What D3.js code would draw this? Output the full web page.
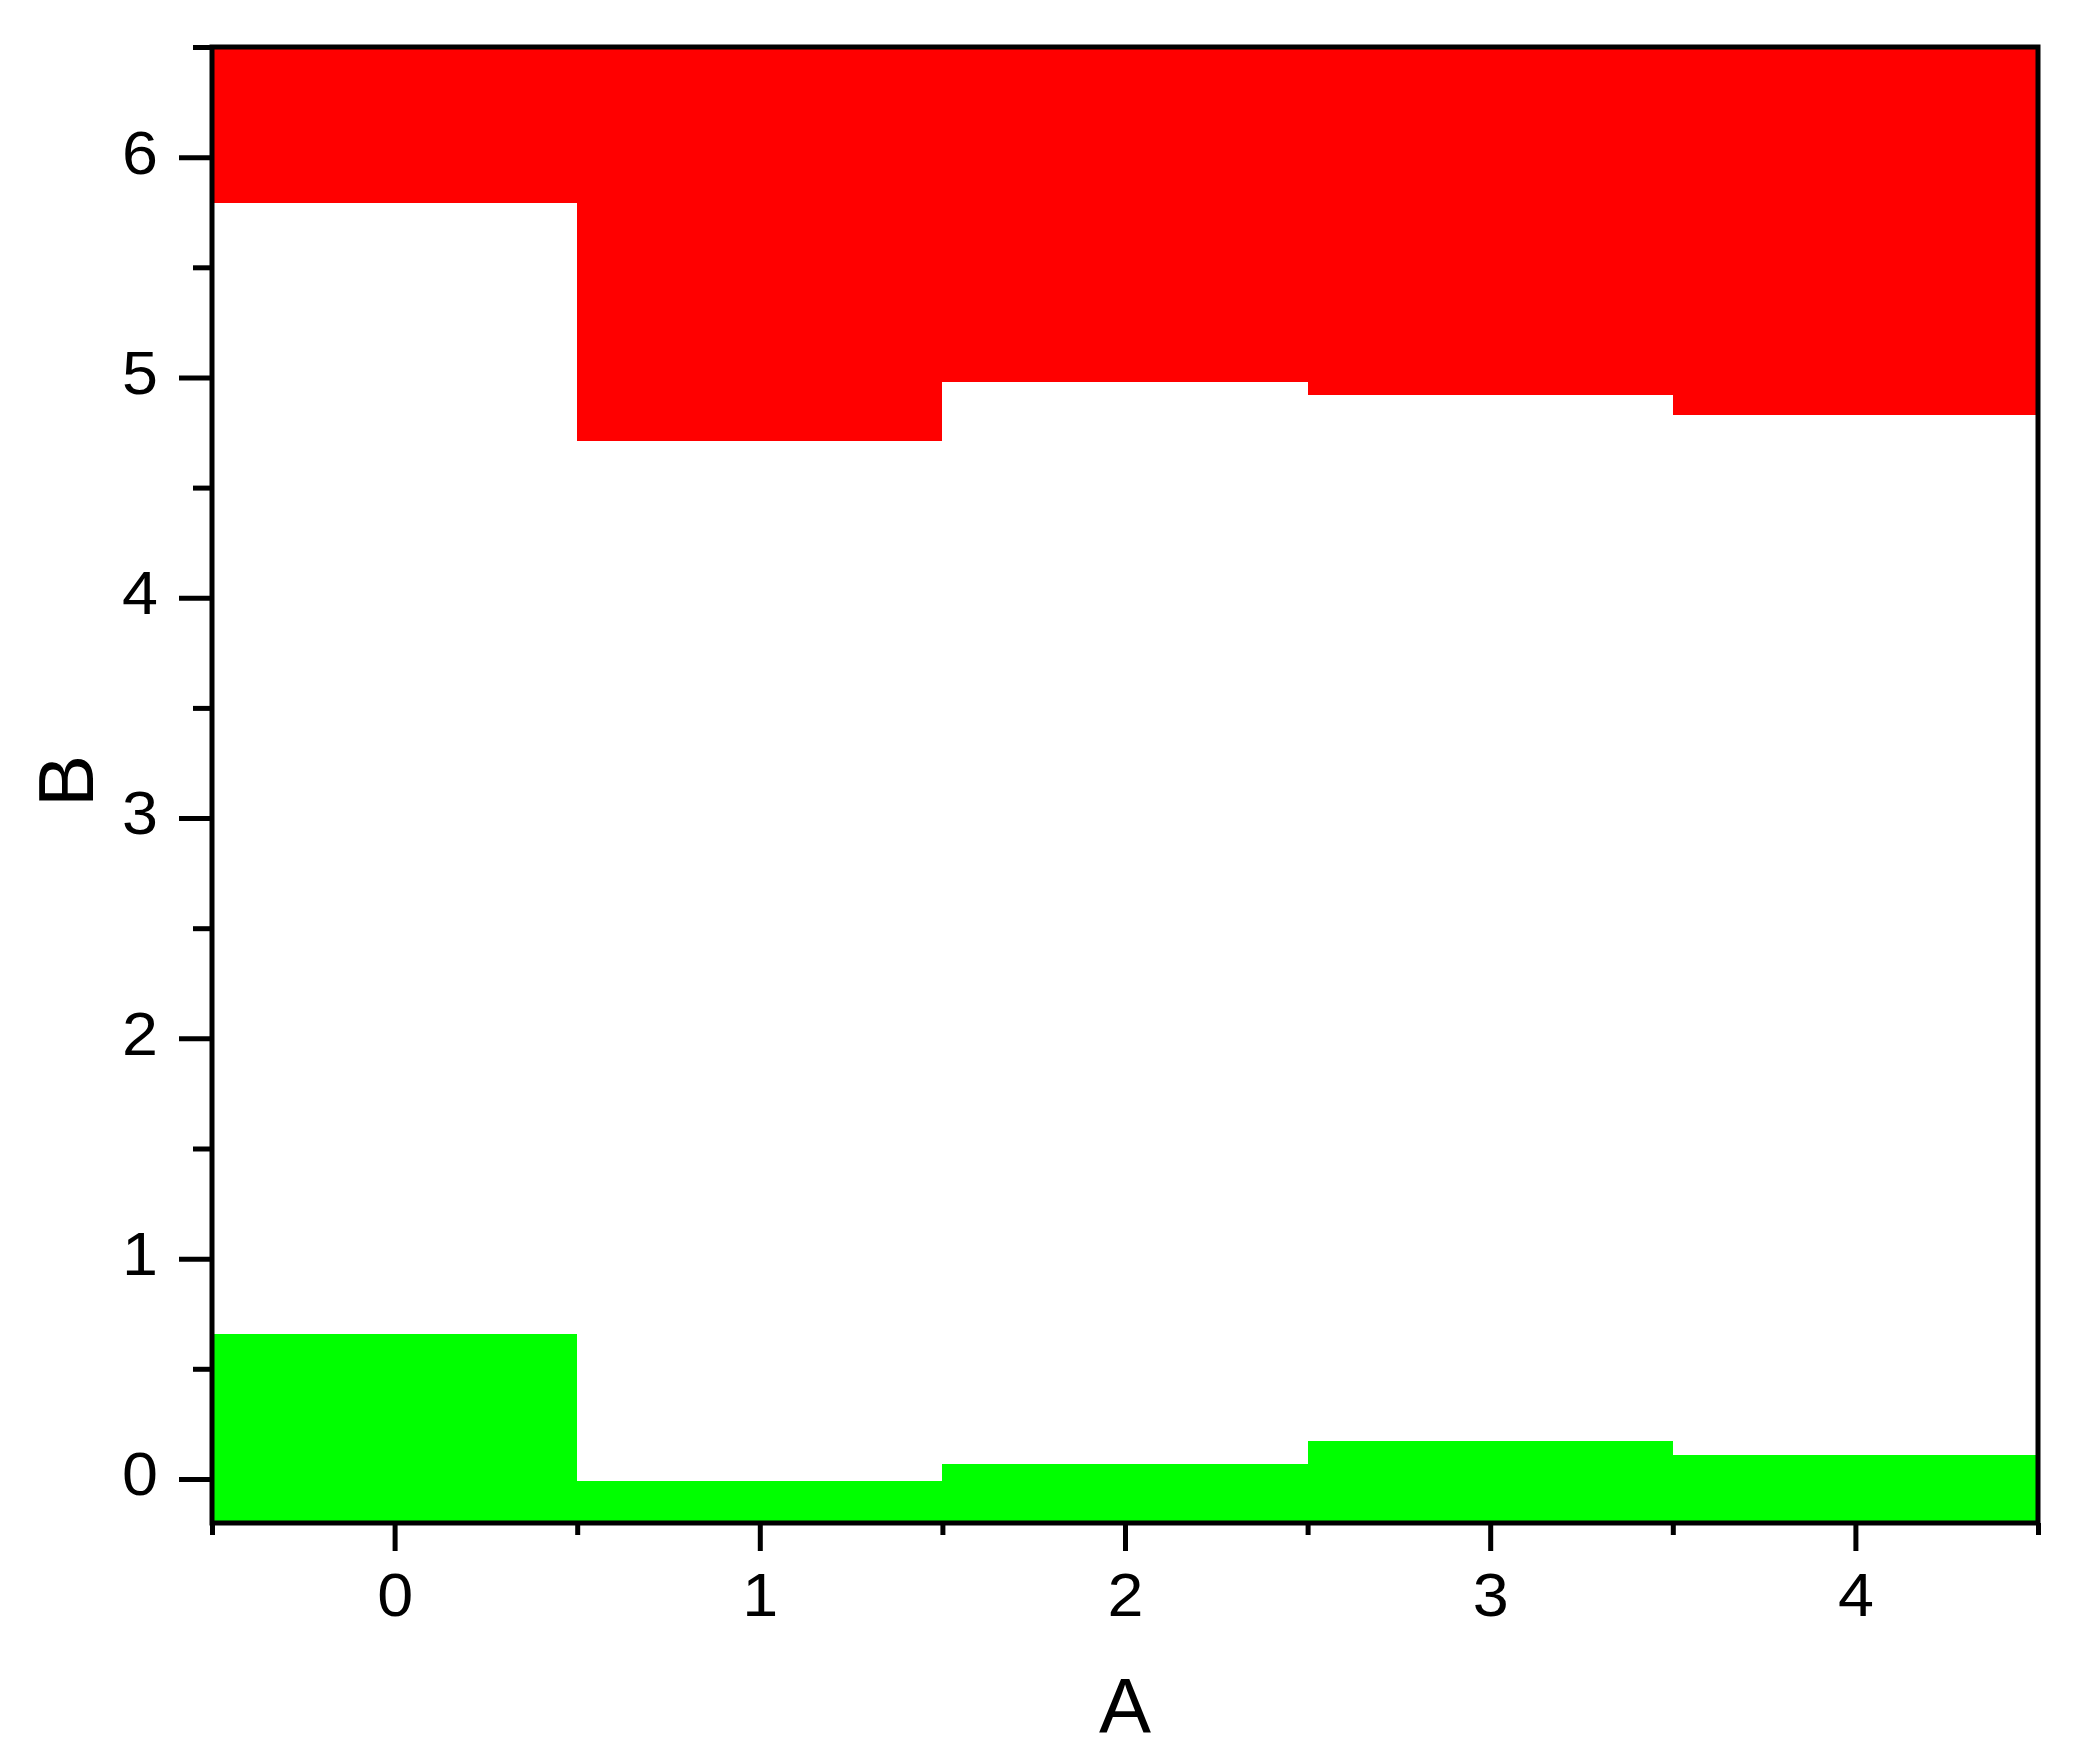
<!DOCTYPE html>
<html>
<head>
<meta charset="utf-8">
<script src="https://cdn.jsdelivr.net/npm/d3@7"></script>
<style>
  body { margin: 0; background: #fff; }
  svg text { font-family: Arial, "Liberation Sans", sans-serif; fill: #000; }
</style>
</head>
<body>
<svg id="chart" width="2079" height="1762"></svg>
<script>
// data
const cats = [0, 1, 2, 3, 4];
const upperB = [5.79, 4.71, 4.98, 4.92, 4.83];   // red band starts here and goes up
const lowerB = [0.66, -0.01, 0.07, 0.17, 0.11];  // green band goes up to here
const xMajor = [0, 1, 2, 3, 4];
const yMajor = [0, 1, 2, 3, 4, 5, 6];
const xDomain = [-0.5, 4.5];
const yDomain = [-0.2, 6.5];

const svg = d3.select('#chart');
const width = +svg.attr('width'),
  height = +svg.attr('height'),
  padLeft = 212,
  padRight = 41,
  padTop = 47,
  padBottom = 239;
const innerWidth = width - padLeft - padRight;
const innerHeight = height - padTop - padBottom;
const lw = 5;
const stretch = 1.06; // tick digits a touch wider than plain Arial

const x = d3.scaleLinear().domain(xDomain).range([0, innerWidth]);
const y = d3.scaleLinear().domain(yDomain).range([innerHeight, 0]);

const pad = svg.append('g')
  .attr('transform', `translate(${padLeft},${padTop})`);

// bands
const rows = cats.map((c, i) => ({ c, hi: upperB[i], lo: lowerB[i] }));

pad.selectAll('.red').data(rows)
  .join('rect')
  .attr('class', 'red')
  .attr('x', d => x(d.c - 0.5))
  .attr('width', d => x(d.c + 0.5) - x(d.c - 0.5))
  .attr('y', y(yDomain[1]))
  .attr('height', d => y(d.hi) - y(yDomain[1]))
  .attr('fill', '#ff0000')
  .attr('shape-rendering', 'crispEdges');

pad.selectAll('.green').data(rows)
  .join('rect')
  .attr('class', 'green')
  .attr('x', d => x(d.c - 0.5))
  .attr('width', d => x(d.c + 0.5) - x(d.c - 0.5))
  .attr('y', d => y(d.lo))
  .attr('height', d => y(yDomain[0]) - y(d.lo))
  .attr('fill', '#00ff00')
  .attr('shape-rendering', 'crispEdges');

// minor ticks
const xMinor = d3.range(-0.5, 4.51, 1);
const yMinor = d3.range(0.5, 6.51, 1);

const styleAxis = g => {
  g.selectAll('.domain').remove();
  g.selectAll('line').attr('stroke', '#000').attr('stroke-width', lw);
};

pad.append('g')
  .attr('transform', `translate(0,${innerHeight})`)
  .call(d3.axisBottom(x).tickValues(xMinor).tickSize(12).tickFormat(''))
  .call(styleAxis);

pad.append('g')
  .call(d3.axisLeft(y).tickValues(yMinor).tickSize(19).tickFormat(''))
  .call(styleAxis);

// major ticks with labels
const xAxis = pad.append('g')
  .attr('transform', `translate(0,${innerHeight})`)
  .call(d3.axisBottom(x).tickValues(xMajor).tickSize(28).tickPadding(22).tickFormat(d3.format('d')))
  .call(styleAxis);
xAxis.selectAll('text')
  .style('font-size', '61px')
  .attr('fill', '#000')
  .attr('transform', `scale(${stretch},1)`);

const yAxis = pad.append('g')
  .call(d3.axisLeft(y).tickValues(yMajor).tickSize(33).tickPadding(21).tickFormat(d3.format('d')))
  .call(styleAxis);
yAxis.selectAll('text')
  .style('font-size', '61px')
  .attr('fill', '#000')
  .attr('dy', '0.26em')
  .attr('transform', function () {
    const tx = +d3.select(this).attr('x');
    return `translate(${tx},0) scale(${stretch},1) translate(${-tx},0)`;
  });

// frame
pad.append('rect')
  .attr('x', 0).attr('y', 0)
  .attr('width', innerWidth).attr('height', innerHeight)
  .attr('fill', 'none')
  .attr('stroke', '#000')
  .attr('stroke-width', lw);

// axis titles
svg.append('text')
  .attr('x', padLeft + innerWidth / 2)
  .attr('y', 1733)
  .attr('text-anchor', 'middle')
  .style('font-size', '78px')
  .text('A');

svg.append('text')
  .attr('transform', `translate(93,${padTop + innerHeight / 2 - 4}) rotate(-90)`)
  .attr('text-anchor', 'middle')
  .style('font-size', '78px')
  .text('B');
</script>
</body>
</html>
